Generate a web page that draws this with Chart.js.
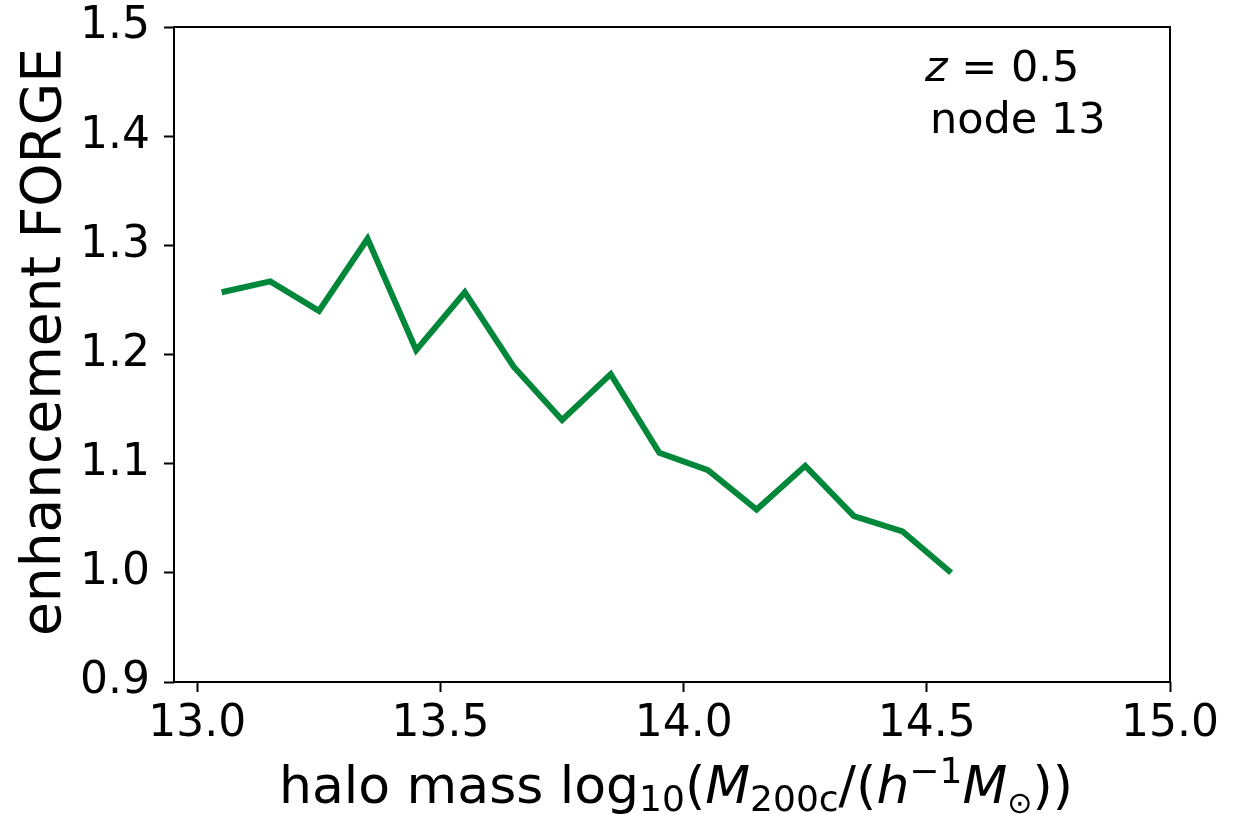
<!DOCTYPE html>
<html>
<head>
<meta charset="utf-8">
<script src="https://cdn.jsdelivr.net/npm/chart.js@4/dist/chart.umd.min.js"></script>
<style>
  html, body { margin: 0; padding: 0; background: #fff; }
  #wrap { width: 1245px; height: 814px; }
</style>
</head>
<body>
<div id="wrap"><canvas id="enhChart" width="1245" height="814"></canvas></div>
<script>
// halo mass bins (log10 M200c) and FORGE enhancement
const massBins = [13.05, 13.15, 13.25, 13.35, 13.45, 13.55, 13.65, 13.75,
                  13.85, 13.95, 14.05, 14.15, 14.25, 14.35, 14.45, 14.55];
const enhancement = [1.257, 1.267, 1.240, 1.306, 1.204, 1.257, 1.189, 1.140,
                     1.182, 1.110, 1.094, 1.058, 1.098, 1.052, 1.038, 1.000];
const xTicks = [13.0, 13.5, 14.0, 14.5, 15.0];
const yTicks = [0.9, 1.0, 1.1, 1.2, 1.3, 1.4, 1.5];

const FONT = "'DejaVu Sans', sans-serif";

// draws a run of mixed-style text pieces (for mathtext-like labels)
function drawRuns(ctx, runs, x, y, align) {
    let total = 0;
    runs.forEach(r => {
        ctx.font = (r.italic ? 'italic ' : '') + r.size + 'px ' + FONT;
        r.w = ctx.measureText(r.t).width;
        total += r.w;
    });
    let cx = align === 'center' ? x - total / 2 : x;
    ctx.textBaseline = 'alphabetic';
    ctx.textAlign = 'left';
    runs.forEach(r => {
        ctx.font = (r.italic ? 'italic ' : '') + r.size + 'px ' + FONT;
        ctx.fillText(r.t, cx, y + (r.dy || 0));
        cx += r.w;
    });
}

const decorPlugin = {
    id: 'decor',
    afterDraw(chart) {
        const ctx = chart.ctx;
        const a = chart.chartArea;
        ctx.save();
        // frame around the axes
        ctx.strokeStyle = '#000';
        ctx.lineWidth = 2;
        ctx.strokeRect(a.left, a.top, a.right - a.left, a.bottom - a.top);
        ctx.fillStyle = '#000';

        // annotation top right
        drawRuns(ctx, [
            { t: 'z', italic: true, size: 43 },
            { t: ' = 0.5', size: 43 }
        ], 925, 81, 'left');
        drawRuns(ctx, [{ t: 'node 13', size: 43 }], 930, 133, 'left');

        // x axis label
        drawRuns(ctx, [
            { t: 'halo mass log', size: 52 },
            { t: '10', size: 36, dy: 8 },
            { t: '(', size: 52 },
            { t: 'M', italic: true, size: 52 },
            { t: '200c', size: 36, dy: 8 },
            { t: '/(', size: 52 },
            { t: 'h', italic: true, size: 52 },
            { t: '\u22121', size: 36, dy: -20 },
            { t: 'M', italic: true, size: 52 },
            { t: '\u2299', size: 30, dy: 10 },
            { t: '))', size: 52 }
        ], 676, 803, 'center');

        // y axis label
        ctx.translate(60, 342);
        ctx.rotate(-Math.PI / 2);
        ctx.font = '55px ' + FONT;
        ctx.textAlign = 'center';
        ctx.textBaseline = 'alphabetic';
        ctx.fillText('enhancement FORGE', 0, 0);
        ctx.restore();
    }
};

new Chart(document.getElementById('enhChart'), {
    type: 'line',
    data: {
        labels: massBins,
        datasets: [{
            data: massBins.map((m, i) => ({ x: m, y: enhancement[i] })),
            borderColor: '#00873a',
            borderWidth: 6,
            pointRadius: 0,
            tension: 0,
            fill: false
        }]
    },
    options: {
        responsive: false,
        animation: false,
        layout: { padding: { left: 0, top: 27, right: 75, bottom: 0 } },
        plugins: { legend: { display: false }, tooltip: { enabled: false } },
        scales: {
            x: {
                type: 'linear',
                min: 12.952,
                max: 15.0,
                afterBuildTicks: s => { s.ticks = xTicks.map(v => ({ value: v })); },
                afterFit: s => { s.height = 132; s.paddingLeft = 0; s.paddingRight = 0; },
                grid: { drawOnChartArea: false, tickLength: 10, tickColor: '#000', tickWidth: 2 },
                border: { display: false },
                ticks: {
                    color: '#000',
                    font: { family: FONT, size: 44 },
                    padding: 6,
                    maxRotation: 0,
                    callback: v => v.toFixed(1)
                }
            },
            y: {
                min: 0.9,
                max: 1.5,
                afterBuildTicks: s => { s.ticks = yTicks.map(v => ({ value: v })); },
                afterFit: s => { s.width = 174; s.paddingTop = 0; s.paddingBottom = 0; },
                grid: { drawOnChartArea: false, tickLength: 10, tickColor: '#000', tickWidth: 2 },
                border: { display: false },
                ticks: {
                    color: '#000',
                    font: { family: FONT, size: 44 },
                    padding: 14,
                    callback: v => v.toFixed(1)
                }
            }
        }
    },
    plugins: [decorPlugin]
});
</script>
</body>
</html>
